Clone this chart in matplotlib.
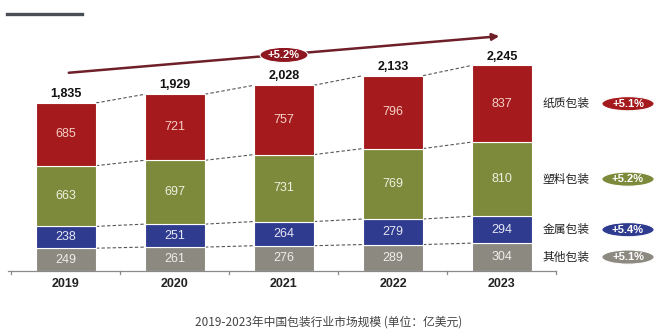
import matplotlib
matplotlib.use('Agg')
import matplotlib.pyplot as plt
from matplotlib.patches import Ellipse
from matplotlib.lines import Line2D
import numpy as np

plt.rcParams['font.family'] = ['Liberation Sans', 'Noto Sans CJK SC', 'DejaVu Sans']

# data (亿美元)
years = ['2019', '2020', '2021', '2022', '2023']
other = [249, 261, 276, 289, 304]
metal = [238, 251, 264, 279, 294]
plastic = [663, 697, 731, 769, 810]
paper = [685, 721, 757, 796, 837]
totals = [1835, 1929, 2028, 2133, 2245]

seg_names = ['其他包装', '金属包装', '塑料包装', '纸质包装']
seg_growth = ['+5.1%', '+5.4%', '+5.2%', '+5.1%']
total_growth = '+5.2%'
caption = '2019-2023年中国包装行业市场规模 (单位：亿美元)'

colors = ['#8c8a80', '#2f3b8f', '#7d8a3c', '#a51b1d']
text_colors = ['#eeeeea', '#e6e8f4', '#eef0e0', '#f6cfc6']

fig = plt.figure(figsize=(6.62, 3.34), dpi=100)
ax = fig.add_axes([0, 0, 1, 1])
ax.set_xlim(-0.6055, 5.468)
ax.set_ylim(-688, 2959)
ax.axis('off')

x = np.arange(len(years))
width = 0.55
series = [other, metal, plastic, paper]
bottom = np.zeros(len(years))
levels = []
for vals, c, tc in zip(series, colors, text_colors):
    vals = np.array(vals)
    ax.bar(x, vals, width, bottom=bottom, color=c, edgecolor='white', linewidth=0.8, zorder=2)
    for xi, b, v in zip(x, bottom, vals):
        ax.text(xi, b + v / 2, f'{v}', ha='center', va='center', color=tc, fontsize=9, zorder=3)
    bottom = bottom + vals
    levels.append(bottom.copy())

# dashed connectors between bars
for lev in levels:
    for i in range(len(years) - 1):
        ax.plot([x[i] + width / 2, x[i + 1] - width / 2], [lev[i], lev[i + 1]],
                ls=(0, (3, 2)), color='#555555', lw=0.8, zorder=1)

# totals
for xi, b, t in zip(x, bottom, totals):
    ax.annotate(f'{t:,}', xy=(xi, b), xytext=(0, 2), textcoords='offset points',
                ha='center', va='bottom', fontsize=9, fontweight='bold', color='#111111')

# baseline and ticks
ax.plot([-0.53, 4.5], [0, 0], color='#8a8a8a', lw=0.9)
for t in np.arange(-0.5, 4.6, 1.0):
    ax.plot([t, t], [0, -35], color='#8a8a8a', lw=0.9)
for xi, y in zip(x, years):
    ax.text(xi, -142, y, ha='center', va='center', fontsize=9, fontweight='bold', color='#222222')

# CAGR arrow
ax.annotate('', xy=(4.0, 2566), xytext=(0.0, 2162),
            arrowprops=dict(arrowstyle='-|>', color='#6e1f28', lw=1.8, mutation_scale=10))
ax.add_patch(Ellipse((2.0, 2359), 0.44, 165, facecolor='#8e1620', edgecolor='white', lw=0.8, zorder=4))
ax.text(2.0, 2359, total_growth, ha='center', va='center', color='white', fontsize=8,
        fontweight='bold', zorder=5)

# right side legend labels
last = len(years) - 1
lower = 0
for vals, name, g, c in zip(series, seg_names, seg_growth, colors):
    mid = lower + vals[last] / 2
    lower += vals[last]
    ax.text(4.376, mid, name, ha='left', va='center', fontsize=8.5,
            family=['Noto Sans CJK SC', 'DejaVu Sans'], color='#222222')
    ax.add_patch(Ellipse((5.156, mid), 0.48, 155, facecolor=c, edgecolor='white', lw=0.8, zorder=4))
    ax.text(5.156, mid, g, ha='center', va='center', color='white', fontsize=8,
            fontweight='bold', zorder=5)

# decoration line top-left
fig.add_artist(Line2D([7 / 662, 82 / 662], [1 - 14 / 334, 1 - 14 / 334],
                      color='#4a4f55', lw=2.4, transform=fig.transFigure))

fig.text(0.497, 12 / 334, caption, ha='center', va='center', fontsize=8.5, color='#444444',
         family=['Noto Sans CJK SC', 'DejaVu Sans'])

fig.savefig('out.png', dpi=100, facecolor='white')
